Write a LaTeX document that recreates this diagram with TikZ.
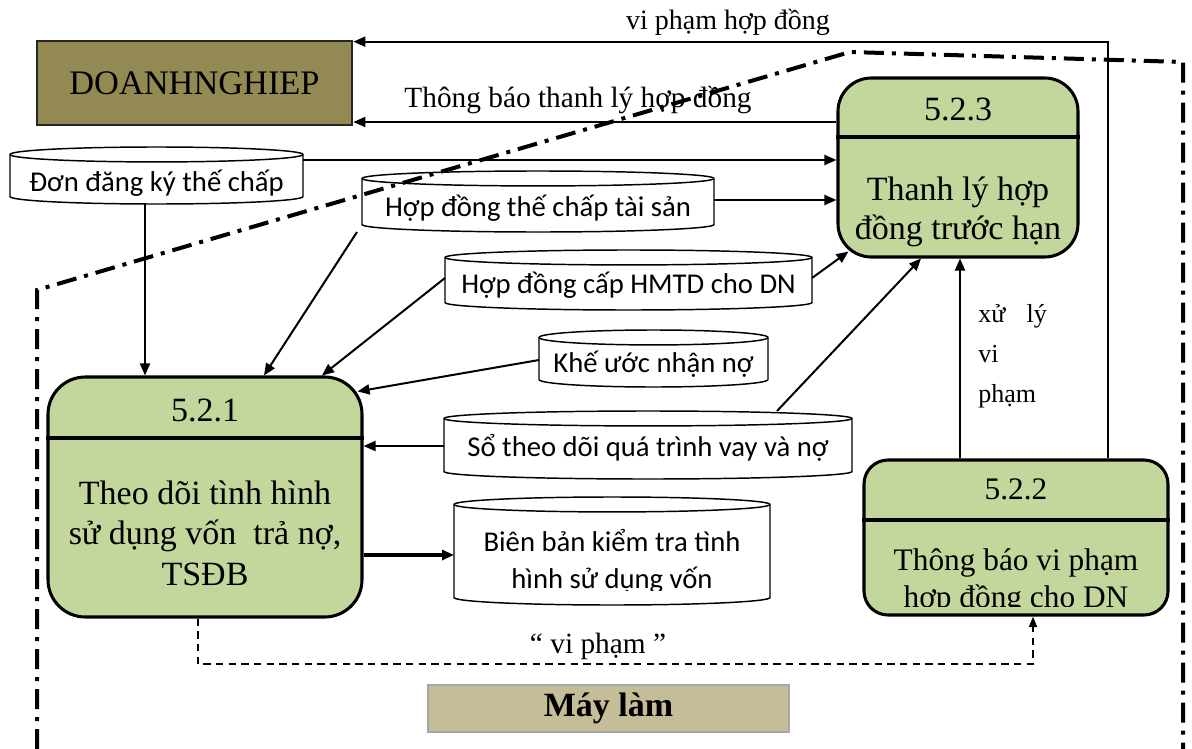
\documentclass[tikz,border=0pt]{standalone}
\usepackage{fontspec}
\setmainfont{Liberation Serif}
\newfontfamily\calib{Carlito}
\usetikzlibrary{arrows.meta,calc}

\definecolor{procgreen}{HTML}{C3D69B}
\definecolor{firmolive}{HTML}{938953}
\definecolor{machtan}{HTML}{C4BD97}

\tikzset{
  procbox/.style={draw=black, line width=2.3pt, fill=procgreen, inner sep=0pt},
  procnum/.style={inner sep=0pt, font=\fontsize{25.5pt}{30pt}\selectfont},
  proctext/.style={inner sep=0pt, align=center, font=\fontsize{25.5pt}{30.4pt}\selectfont},
  divider/.style={line width=2.3pt},
  firmbox/.style={draw=black!85, line width=2pt, fill=firmolive, inner sep=0pt,
    font=\fontsize{25.8pt}{30pt}\selectfont},
  machinebox/.style={draw=black!35, line width=1.5pt, fill=machtan, inner sep=0pt,
    font=\fontsize{25.5pt}{30pt}\selectfont\bfseries},
  storenode/.style={inner sep=0pt, outer sep=0pt, draw=none},
  storeline/.style={line width=1.1pt, fill=white},
  storerim/.style={line width=1.1pt},
  storetext/.style={inner sep=0pt, align=center, font=\calib\fontsize{21.5pt}{27.75pt}\selectfont},
  flow/.style={line width=1.5pt, -{Triangle[length=9pt,width=7.5pt]}},
  flowlabel/.style={inner sep=0pt, font=\fontsize{21pt}{25pt}\selectfont},
  vioflow/.style={line width=1.7pt, dash pattern=on 5.5pt off 4pt, -{Triangle[length=8pt,width=6pt]}},
  boundary/.style={line width=3pt, dash pattern=on 15pt off 6pt on 3pt off 6pt},
}

% data store: name, centre x, centre y, width, height (picture units)
\newcommand{\storeoutline}[5]{%
  \node[storenode, minimum width=#4*0.75pt, minimum height=#5*0.75pt] (#1) at (#2,#3) {};
  \pgfmathsetmacro{\dsrx}{#4*0.375}%
  \draw[storeline] ($(#1.north west)+(0pt,-5.6pt)$) -- ($(#1.south west)+(0pt,5.6pt)$)
    arc[start angle=180,end angle=360,x radius=\dsrx pt,y radius=5.6pt]
    -- ($(#1.north east)+(0pt,-5.6pt)$)
    arc[start angle=0,end angle=180,x radius=\dsrx pt,y radius=5.6pt] -- cycle;
  \draw[storerim] ($(#1.north west)+(0pt,-5.6pt)$)
    arc[start angle=180,end angle=360,x radius=\dsrx pt,y radius=5.6pt];
}

\begin{document}
\begin{tikzpicture}[x=0.75pt,y=-0.75pt]
\useasboundingbox (0,0) rectangle (1192,749);

% external entity
\node[firmbox, minimum width=315*0.75pt, minimum height=84*0.75pt] (dn) at (194.5,83) {DOANHNGHIEP};

% processes
\node[procbox, rounded corners=25pt, minimum width=240*0.75pt, minimum height=179*0.75pt] (p523) at (958,167.5) {};
\draw[divider] (p523.west |- 0,137) -- (p523.east |- 0,137);
\node[procnum] (n523) at (958,109) {5.2.3};
\node[proctext, font=\fontsize{25.5pt}{29pt}\selectfont] (t523) at (958,212) {Thanh lý hợp\\đồng trước hạn};

\node[procbox, rounded corners=28pt, minimum width=314*0.75pt, minimum height=240*0.75pt] (p521) at (205,497) {};
\draw[divider] (p521.west |- 0,438) -- (p521.east |- 0,438);
\node[procnum] (n521) at (205,410) {5.2.1};
\node[proctext] (t521) at (205,533) {Theo dõi tình hình\\sử dụng vốn \ trả nợ,\\TSĐB};

\node[procbox, rounded corners=18pt, minimum width=304*0.75pt, minimum height=155*0.75pt] (p522) at (1016,537.5) {};
\draw[divider] (p522.west |- 0,520) -- (p522.east |- 0,520);
\node[procnum, font=\fontsize{23.5pt}{28pt}\selectfont] (n522) at (1016,489) {5.2.2};
\begin{scope}
  \clip (870,525) rectangle (1165,606);
  \node[proctext, font=\fontsize{23.5pt}{27.75pt}\selectfont] (t522) at (1016,581) {Thông báo vi phạm\\hợp đồng cho DN};
\end{scope}

\node[machinebox, minimum width=361*0.75pt, minimum height=47*0.75pt] (ml) at (608.5,708.5) {Máy làm};

% data stores
\storeoutline{s1}{156.5}{175.5}{293}{57}
\node[storetext] (s1-t) at (156.5,183) {Đơn đăng ký thế chấp};
\storeoutline{s2}{538}{201.5}{352}{61}
\node[storetext] (s2-t) at (538,208) {Hợp đồng thế chấp tài sản};
\storeoutline{s3}{628.5}{280}{367}{60}
\node[storetext] (s3-t) at (628.5,285) {Hợp đồng cấp HMTD cho DN};
\storeoutline{s4}{653.5}{358.5}{229}{57}
\node[storetext] (s4-t) at (653.5,364) {Khế ước nhận nợ};
\storeoutline{s5}{648}{445}{408}{68}
\node[storetext] (s5-t) at (648,448) {Sổ theo dõi quá trình vay và nợ};
\storeoutline{s6}{612}{551}{316}{108}
\begin{scope}
  \clip (440,500) rectangle (780,590);
  \node[storetext] (s6-t) at (612,561.5) {Biên bản kiểm tra tình\\hình sử dụng vốn};
\end{scope}

% data flows
\draw[flow] (145,0 |- s1.south) -- (145,0 |- p521.north);
\draw[flow] (s1.east |- 0,160) -- (p523.west |- 0,160);
\draw[flow] (s2.east |- 0,200) -- (p523.west |- 0,200);
\draw[flow] ($(s2.south west)+(-5,0)$) -- (264,0 |- p521.north);
\draw[flow] (s3.west |- 0,278) -- (322,0 |- p521.north);
\draw[flow] (s3.east |- 0,278) -- ($(p523.south west)+(12,-7)$);
\draw[flow] (s4.west |- 0,360) -- ($(p521.north east)+(-6,16)$);
\draw[flow] (s5.west |- 0,446) -- (p521.east |- 0,446);
\draw[flow] (777,0 |- s5.north) -- (921,0 |- p523.south);
\draw[flow] (960,0 |- p522.north) -- (960,0 |- p523.south);
\draw[flow] (1108,0 |- p522.north) |- ($(dn.north east)+(0,2)$);
\draw[flow] (p523.west |- 0,122) -- (dn.east |- 0,122);
\draw[flow, line width=2.5pt] (p521.east |- 0,555) -- (s6.west |- 0,555);
\draw[vioflow] (198,0 |- p521.south) -- (198,664) -| (1033,0 |- p522.south);

% flow labels
\node[flowlabel] (l-vp) at (728,22) {vi phạm hợp đồng};
\node[flowlabel, font=\fontsize{22pt}{26pt}\selectfont] (l-tb) at (578,100) {Thông báo thanh lý hợp đồng};
\node[flowlabel, anchor=west, align=left, font=\fontsize{19.5pt}{30pt}\selectfont] (l-xl) at (978,356) {xử\hspace{16pt}lý\\vi\\phạm};
\node[flowlabel, font=\fontsize{22pt}{26pt}\selectfont] (l-q) at (598,646) {“ vi phạm ”};

% system boundary
\draw[boundary] (37,749) -- (37,290) -- (850,52) -- (1183,62) -- (1183,749);
\end{tikzpicture}
\end{document}
